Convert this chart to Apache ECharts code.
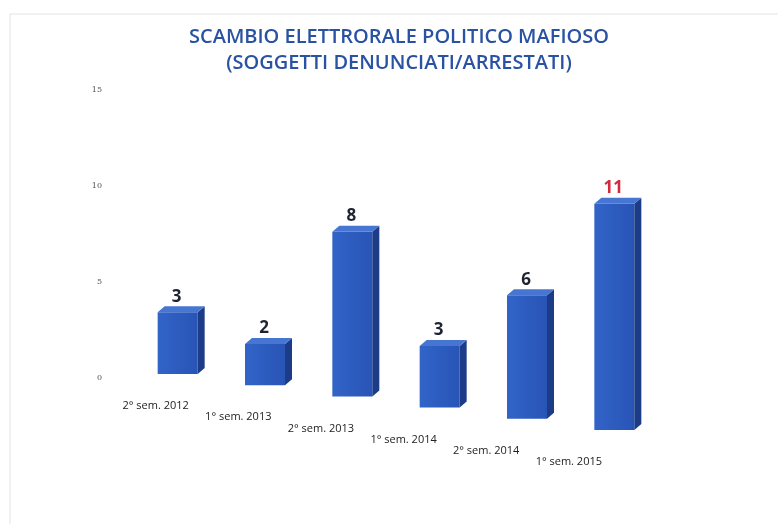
<!DOCTYPE html>
<html>
<head>
<meta charset="utf-8">
<script src="https://cdn.jsdelivr.net/npm/echarts@6/dist/echarts.min.js"></script>
<style>
html,body{margin:0;padding:0;background:#fff;}
#chart{width:778px;height:524px;}
</style>
</head>
<body>
<div id="chart"></div>
<script>
var categories = ['2° sem. 2012', '1° sem. 2013', '2° sem. 2013', '1° sem. 2014', '2° sem. 2014', '1° sem. 2015'];
var values = [3, 2, 8, 3, 6, 11];
var yTicks = [0, 5, 10, 15];
var titleLines = ['SCAMBIO ELETTRORALE POLITICO MAFIOSO', '(SOGGETTI DENUNCIATI/ARRESTATI)'];

var chart = echarts.init(document.getElementById('chart'), null, {renderer: 'canvas'});

function renderItem(params, api) {
  var i = api.value(0);
  var v = api.value(1);
  var p0 = api.coord([i, 0]);
  var p1 = api.coord([i, v]);
  var shift = -4 + 11.2 * i;          // perspective drop of the baseline
  var base = p0[1] + shift;
  var top = p1[1] + shift;
  var cx = p0[0];
  var w = 40, dx = 7, dy = 6;
  var x0 = cx - w / 2;
  var isLast = i === categories.length - 1;
  return {
    type: 'group',
    children: [
      {
        type: 'rect',
        shape: {x: x0, y: top, width: w, height: base - top},
        style: {fill: new echarts.graphic.LinearGradient(0, 0, 1, 0, [
          {offset: 0, color: '#3264c8'}, {offset: 1, color: '#2854b6'}])}
      },
      {
        type: 'polygon',
        shape: {points: [[x0 + w, top], [x0 + w + dx, top - dy], [x0 + w + dx, base - dy], [x0 + w, base]]},
        style: {fill: '#1c3c88'}
      },
      {
        type: 'polygon',
        shape: {points: [[x0, top], [x0 + dx, top - dy], [x0 + w + dx, top - dy], [x0 + w, top]]},
        style: {fill: '#4775d2'}
      },
      {
        type: 'text',
        style: {
          text: String(v),
          x: cx - 1, y: top - dy - 1,
          align: 'center', verticalAlign: 'bottom',
          fill: isLast ? '#d22a3c' : '#1e2330',
          font: 'bold 17px "Open Sans", sans-serif'
        }
      },
      {
        type: 'text',
        style: {
          text: categories[i],
          x: cx - 22 - 4.7 * i, y: base + 32,
          align: 'center', verticalAlign: 'middle',
          fill: '#222',
          font: '11px "Open Sans", sans-serif'
        }
      }
    ]
  };
}

var option = {
  backgroundColor: '#ffffff',
  animation: false,
  title: {
    text: titleLines.join('\n'),
    left: 394,
    top: 19,
    textAlign: 'center',
    textStyle: {
      color: '#2a52a2',
      fontFamily: 'Open Sans',
      fontSize: 20,
      fontWeight: 600,
      lineHeight: 26
    }
  },
  graphic: [{
    type: 'rect',
    shape: {x: 10, y: 14, width: 800, height: 600},
    style: {fill: 'none', stroke: '#e3e3e3', lineWidth: 1},
    silent: true, z: -1
  }],
  grid: {left: 134, right: 120, top: 90, bottom: 146},
  xAxis: {
    type: 'category',
    data: categories,
    show: false
  },
  yAxis: [{
    type: 'value',
    min: yTicks[0],
    max: yTicks[yTicks.length - 1],
    interval: yTicks[1] - yTicks[0],
    axisLine: {show: false},
    axisTick: {show: false},
    splitLine: {show: false},
    axisLabel: {color: '#555', fontSize: 8, fontFamily: 'DejaVu Serif', margin: 32}
  }, {
    type: 'value',
    min: 0,
    max: 14,
    show: false
  }],
  series: [{
    type: 'custom',
    xAxisIndex: 0,
    yAxisIndex: 1,
    renderItem: renderItem,
    encode: {x: 0, y: 1},
    data: values.map(function (v, i) { return [i, v]; })
  }]
};
chart.setOption(option);
</script>
</body>
</html>
